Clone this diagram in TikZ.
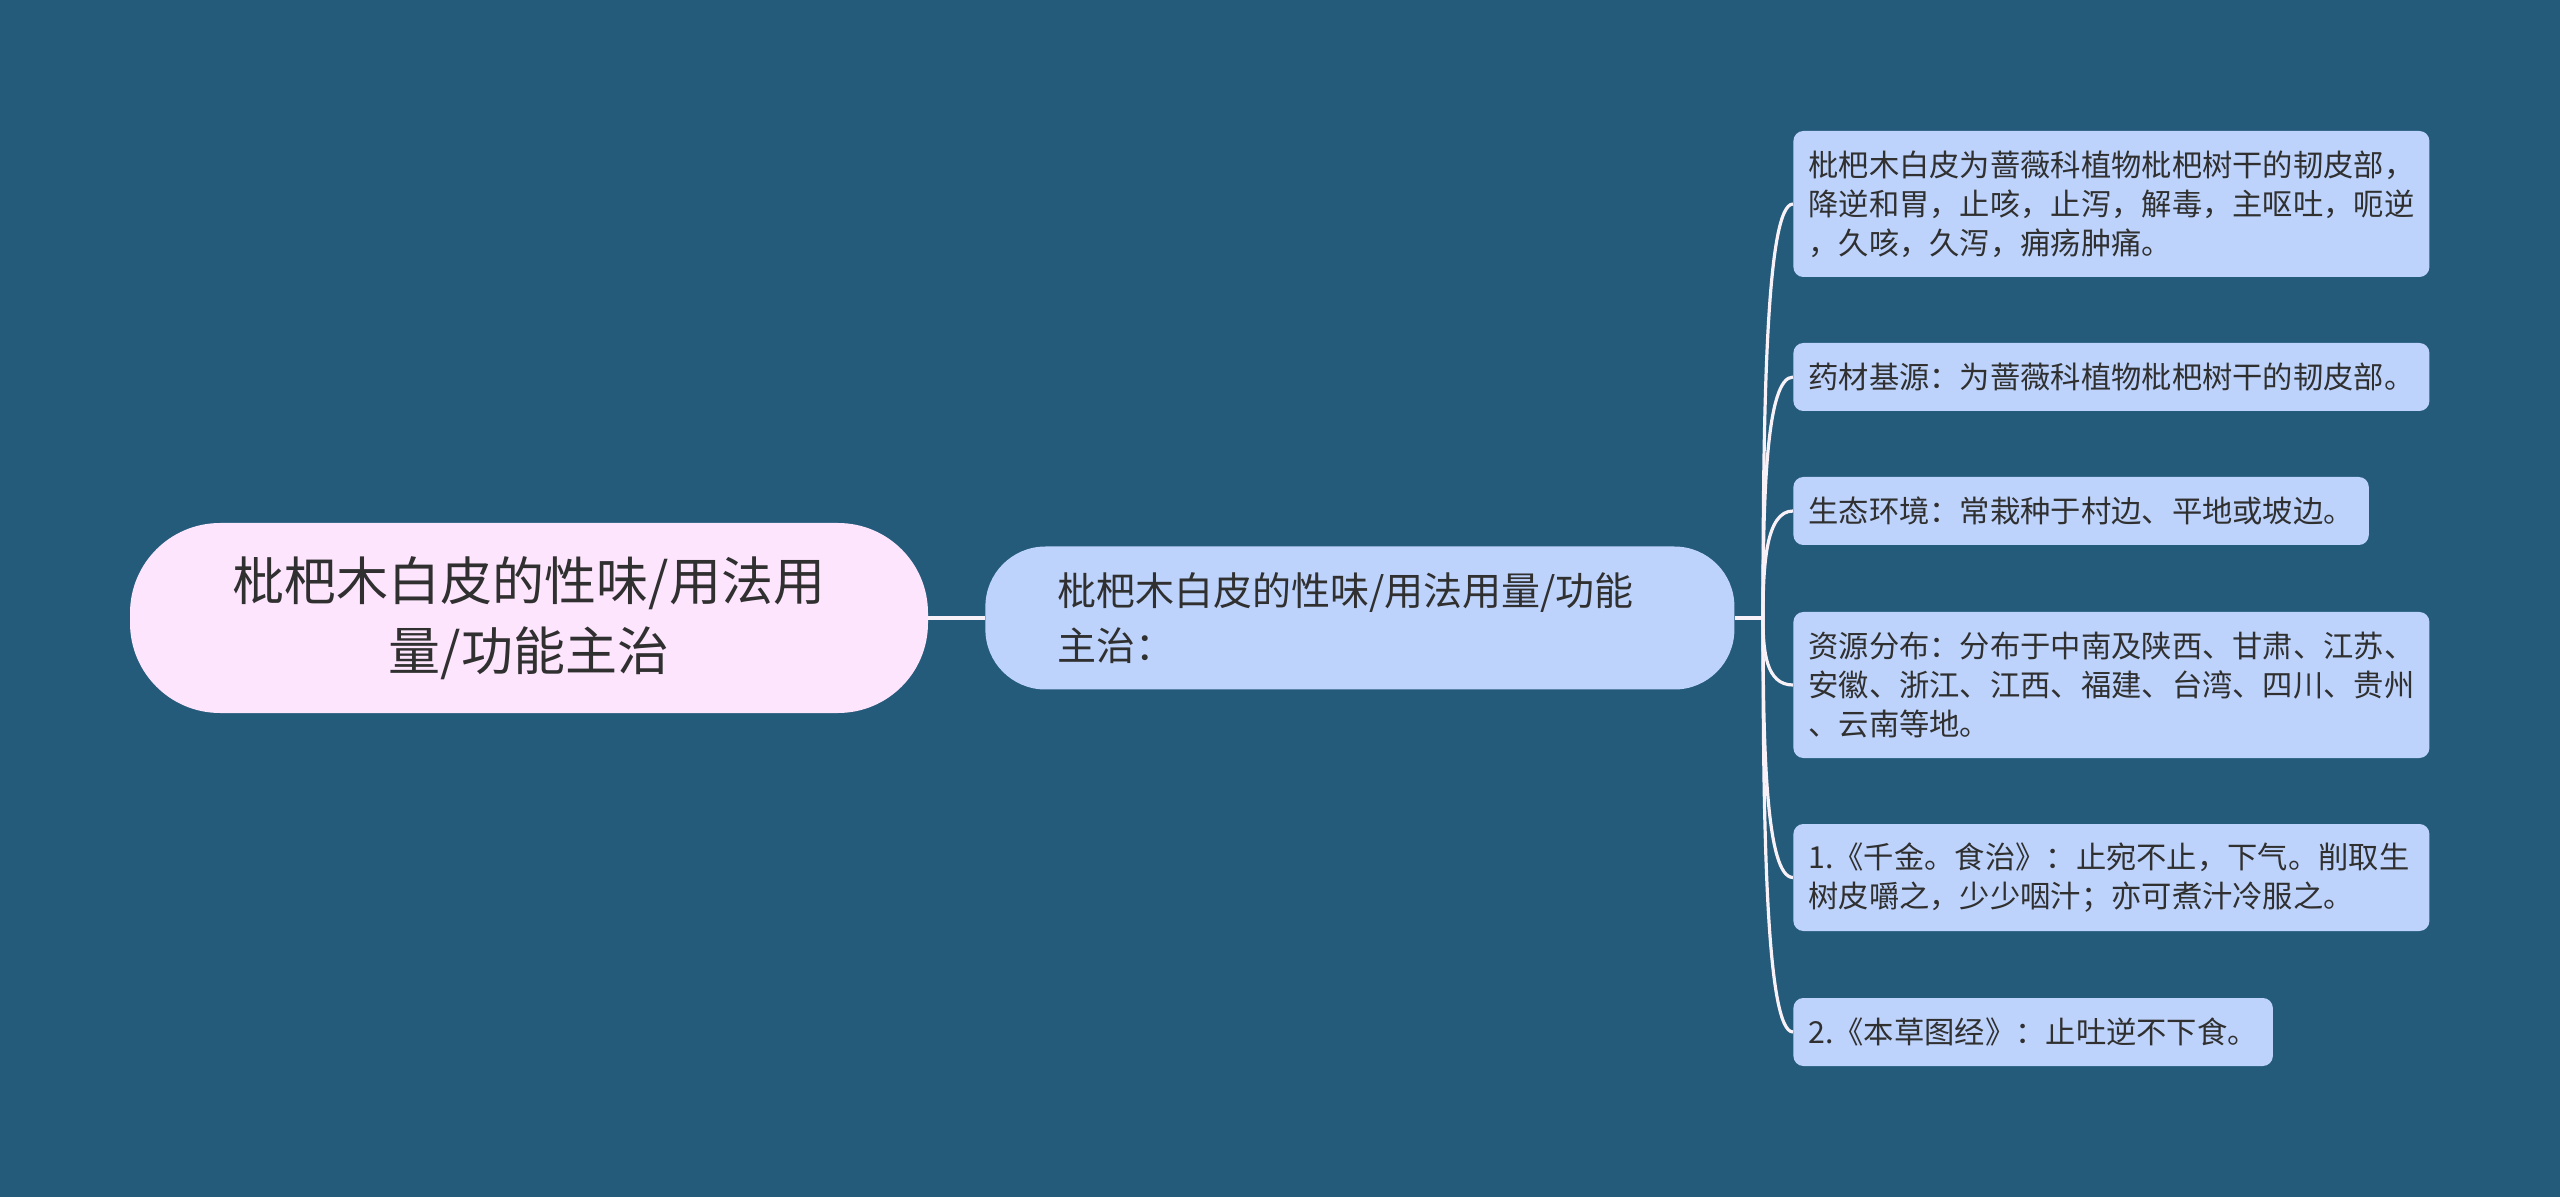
\documentclass[tikz,border=0pt]{standalone}
\usepackage{fontspec}
\setmainfont{Noto Sans CJK SC}
\usetikzlibrary{calc}
\definecolor{bg}{HTML}{245A7A}
\definecolor{leaffill}{HTML}{BED3FB}
\definecolor{rootfill}{HTML}{FDE5FD}
\definecolor{ink}{HTML}{303030}
\definecolor{linecol}{HTML}{F8F2F8}
\begin{document}
\begin{tikzpicture}[x=0.5pt,y=-0.5pt,
  rootbox/.style={fill=rootfill, rounded corners=45pt, minimum width=399pt, minimum height=95pt, align=center, text=ink, font=\fontsize{26pt}{35pt}\selectfont, inner sep=0pt},
  midbox/.style={fill=leaffill, rounded corners=30pt, minimum width=374.5pt, minimum height=71.5pt, text width=302.5pt, inner xsep=36pt, inner ysep=0pt, align=left, text=ink, font=\fontsize{19.5pt}{27.5pt}\selectfont, anchor=west},
  leafbox/.style={fill=leaffill, rounded corners=5pt, inner xsep=7.5pt, inner ysep=0pt, align=left, text=ink, font=\fontsize{15.15pt}{19.5pt}\selectfont, anchor=west},
  wide/.style={text width=303pt},
  trunk/.style={draw=linecol, line width=2.2pt},
  branch/.style={draw=linecol, line width=1.6pt},
]
\useasboundingbox (0,0) rectangle (2560,1197);
\fill[bg] (0,0) rectangle (2560,1197);

\node[rootbox] (root) at (529,618) {枇杷木白皮的性味/用法用\\量/功能主治};
\node[midbox] (mid) at (985,618) {枇杷木白皮的性味/用法用量/功能\\主治：};
\coordinate (j) at (1763,618);

\node[leafbox, wide, minimum height=73pt] (l1) at (1793,204) {枇杷木白皮为蔷薇科植物枇杷树干的韧皮部，\\降逆和胃，止咳，止泻，解毒，主呕吐，呃逆\\，久咳，久泻，痈疡肿痛。};
\node[leafbox, wide, minimum height=34pt] (l2) at (1793,377) {药材基源：为蔷薇科植物枇杷树干的韧皮部。};
\node[leafbox, minimum height=34pt] (l3) at (1793,511) {生态环境：常栽种于村边、平地或坡边。};
\node[leafbox, wide, minimum height=73pt] (l4) at (1793,685) {资源分布：分布于中南及陕西、甘肃、江苏、\\安徽、浙江、江西、福建、台湾、四川、贵州\\、云南等地。};
\node[leafbox, wide, minimum height=53.5pt] (l5) at (1793,877.5) {1.《千金。食治》：止宛不止，下气。削取生\\树皮嚼之，少少咽汁；亦可煮汁冷服之。};
\node[leafbox, minimum height=34pt] (l6) at (1793,1032) {2.《本草图经》：止吐逆不下食。};

\draw[trunk] (root.east) -- (mid.west);
\draw[branch] (mid.east) -- (j);
\foreach \L in {l1,l2,l3,l4,l5,l6}{
  \draw[branch] (j) .. controls ($(j)!0.5!(j |- \L.west)$) and ($(j |- \L.west)+(3,0)$) .. (\L.west);
}
\end{tikzpicture}
\end{document}
